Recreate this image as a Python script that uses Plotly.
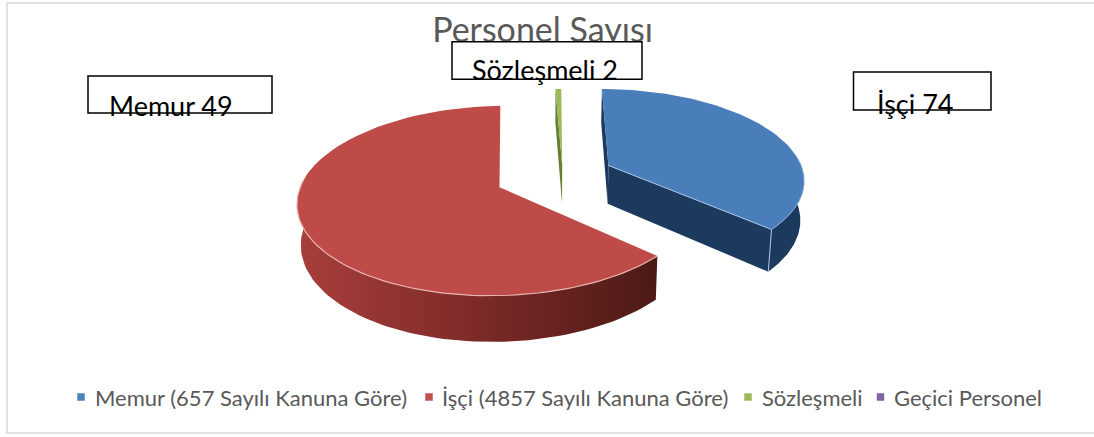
import numpy as np
import plotly.graph_objects as go

# ---- data ----
categories = ["Memur (657 Sayılı Kanuna Göre)", "İşçi (4857 Sayılı Kanuna Göre)", "Sözleşmeli", "Geçici Personel"]
label_texts = ["Memur 49", "İşçi 74", "Sözleşmeli 2"]
# share of the circle each slice occupies as drawn (percent)
drawn_share = [36.67, 62.78, 0.55, 0.0]
title_text = "Personel Sayısı"

# ---- style ----
face_colors = ["#4A7EBB", "#BE4B48", "#9BBB59", "#8064A2"]
legend_colors = ["#4F81BD", "#C0504D", "#9BBB59", "#8064A2"]
explode = [(0.28, 0.125), (-0.276, -0.117), (0.04, 0.125), (0, 0)]
CX, CY, A, B, K, H, SHRINK = 554.5, 176.5, 196, 90, 0.14, 39, 0.985
FONT = "Lato"
TEXT_GREY = "#595959"


def project(u, v, bottom=False):
    den = 1 + K * v
    x = A * u / den
    y = CY - B * v / den
    if bottom:
        return CX + x * SHRINK, y + H / den
    return CX + x, y


def rim(ex, ey, a0, a1, n=80):
    t = np.radians(np.linspace(a0, a1, n))
    return ex + np.sin(t), ey + np.cos(t)


angles = np.concatenate([[0], np.cumsum(drawn_share) * 3.6])
fig = go.Figure()


def poly(x, y, color=None, gradient=None):
    kw = dict(x=list(x), y=list(y), mode="lines", fill="toself", hoverinfo="skip", showlegend=False,
              line=dict(color="rgba(0,0,0,0)", width=0))
    if gradient:
        kw["fillgradient"] = gradient
    else:
        kw["fillcolor"] = color
    fig.add_trace(go.Scatter(**kw))


def stroke(x, y, color, width=1.0):
    fig.add_trace(go.Scatter(x=list(x), y=list(y), mode="lines", line=dict(color=color, width=width),
                             hoverinfo="skip", showlegend=False))


def wall(ex, ey, a0, a1, color=None, gradient=None):
    u, v = rim(ex, ey, a0, a1)
    x0, y0 = project(u, v)
    x1, y1 = project(u, v, bottom=True)
    poly(np.r_[x0, x1[::-1]], np.r_[y0, y1[::-1]], color=color, gradient=gradient)


def cut(ex, ey, a, color):
    t = np.radians(a)
    u = np.array([ex, ex + np.sin(t)])
    v = np.array([ey, ey + np.cos(t)])
    x0, y0 = project(u, v)
    x1, y1 = project(u, v, bottom=True)
    poly(np.r_[x0, x1[::-1]], np.r_[y0, y1[::-1]], color=color)


def face(i):
    ex, ey = explode[i]
    u, v = rim(ex, ey, angles[i], angles[i + 1])
    x, y = project(np.r_[ex, u, ex], np.r_[ey, v, ey])
    poly(x, y, color=face_colors[i])


# red slice
ex, ey = explode[1]
wall(ex, ey, angles[1], 285,
     gradient=dict(type="horizontal",
                   colorscale=[[0, "#A83F3B"], [0.3, "#8E3230"], [0.7, "#6A2321"], [1, "#4B1A16"]]))
face(1)
u, v = rim(ex, ey, angles[1], 275)
stroke(*project(u, v), "#E9B3B0", 1.2)

# green slice
ex, ey = explode[2]
cut(ex, ey, angles[2], "#667F35")
face(2)

# blue slice
ex, ey = explode[0]
cut(ex, ey, 0, "#1B3A5E")
wall(ex, ey, 85, angles[1], color="#1B3A5E")
cut(ex, ey, angles[1], "#1B3A5E")
face(0)
t = np.radians(angles[1])
cu, cv = np.array([ex + np.sin(t)]), np.array([ey + np.cos(t)])
x0, y0 = project(cu, cv)
x1, y1 = project(cu, cv, bottom=True)
stroke([x0[0], x1[0]], [y0[0], y1[0]], "#A9C4E6", 1.0)
ax, ay = project(np.array([ex]), np.array([ey]))
stroke([ax[0], x0[0]], [ay[0], y0[0]], "#A9C4E6", 1.0)
u, v = rim(ex, ey, 85, angles[1])
stroke(*project(u, v), "#86A9D4", 1.0)

# title is a text mark so that the white label box can sit on top of it
fig.add_trace(go.Scatter(x=[542.5], y=[33], mode="text", text=[title_text], textposition="middle center",
                         textfont=dict(family=FONT, size=34, color=TEXT_GREY),
                         hoverinfo="skip", showlegend=False, cliponaxis=False))

# legend row
marker_x = [81, 429, 748, 880.5]
text_x = [94, 440.5, 761, 892.5]
for i, cat in enumerate(categories):
    fig.add_trace(go.Scatter(x=[marker_x[i]], y=[397], mode="markers", name=cat,
                             marker=dict(symbol="square", size=7.5, color=legend_colors[i]),
                             hoverinfo="skip", showlegend=False))
    fig.add_annotation(x=text_x[i], y=397, xref="x", yref="y", text=cat, showarrow=False,
                       xanchor="left", yanchor="middle", xshift=-1,
                       font=dict(family=FONT, size=22, color=TEXT_GREY))

# boxes and labels
boxes = [(88, 76, 272, 113), (853.5, 72, 991, 110), (452, 41.7, 642, 79.3)]
label_pos = [(170.5, 105), (914.5, 103), (544.5, 69)]
for (x0, y0, x1, y1), (lx, ly), txt in zip(boxes, label_pos, label_texts):
    fig.add_shape(type="rect", x0=x0, y0=y0, x1=x1, y1=y1, layer="above",
                  line=dict(color="#000000", width=1.5), fillcolor="#FFFFFF")
    fig.add_annotation(x=lx, y=ly, xref="x", yref="y", text=txt, showarrow=False,
                       xanchor="center", yanchor="middle",
                       font=dict(family=FONT, size=27, color="#000000"))

# chart frame (open on the right, as cropped in the picture)
fig.add_shape(type="rect", x0=7, y0=3, x1=1200, y1=433, layer="below",
              line=dict(color="#D9D9D9", width=1.5), fillcolor="rgba(0,0,0,0)")

fig.update_layout(
    width=1094, height=437, margin=dict(l=0, r=0, t=0, b=0),
    paper_bgcolor="#FFFFFF", plot_bgcolor="#FFFFFF",
    xaxis=dict(range=[0, 1094], visible=False, fixedrange=True),
    yaxis=dict(range=[437, 0], visible=False, fixedrange=True),
    showlegend=False,
)
fig.write_html("out.html", config={"displayModeBar": False},
               post_script="document.body.style.margin='0';")
